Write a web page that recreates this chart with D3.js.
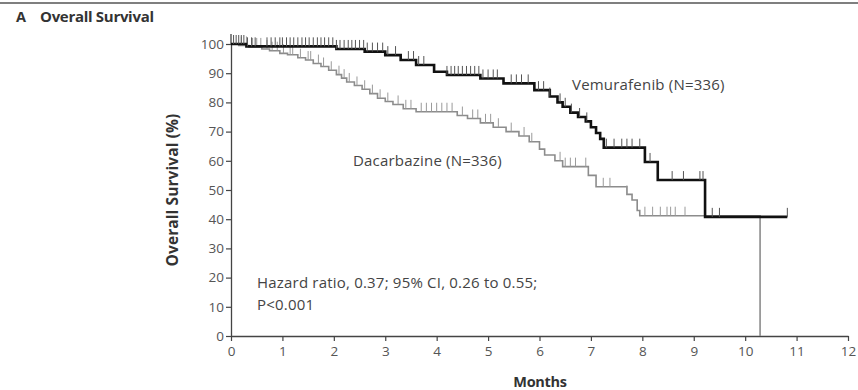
<!DOCTYPE html>
<html>
<head>
<meta charset="utf-8">
<script src="https://cdn.jsdelivr.net/npm/d3@7/dist/d3.min.js"></script>
<style>
  html, body { margin: 0; padding: 0; background: #fff; }
  svg { display: block; font-family: "Open Sans", Lato, sans-serif; }
</style>
</head>
<body>
<svg id="chart" width="858" height="390"></svg>
<script>
// Kaplan-Meier step points: time in months, survival in percent
const vemTime = [0, 0.3, 2.05, 2.6, 3.0, 3.3, 3.6, 3.95, 4.2, 4.85, 5.3, 5.9, 6.2, 6.35, 6.45, 6.6, 6.75, 6.9, 7.0, 7.1, 7.18, 7.25, 8.05, 8.3, 9.22, 10.82];
const vemSurv = [100, 99.2, 98.3, 97.4, 96.2, 94.5, 92.8, 90.5, 89.4, 88.2, 86.5, 84.2, 82.0, 80.0, 78.5, 76.5, 75.0, 73.5, 71.5, 69.5, 67.5, 64.5, 59.6, 53.4, 40.8, 40.8];

const dacTime = [0, 0.15, 0.35, 0.6, 0.75, 0.95, 1.1, 1.3, 1.45, 1.6, 1.75, 1.9, 2.05, 2.15, 2.25, 2.4, 2.55, 2.7, 2.85, 3.0, 3.15, 3.35, 3.6, 4.4, 4.6, 4.85, 5.1, 5.35, 5.6, 5.8, 6.0, 6.1, 6.3, 6.45, 6.95, 7.1, 7.7, 7.8, 7.9, 7.95, 10.29];
const dacSurv = [100, 99.5, 99.0, 98.3, 97.7, 96.8, 96.3, 95.3, 94.5, 93.3, 92.3, 91.0, 89.5, 88.3, 87.0, 85.8, 84.5, 83.0, 81.4, 80.3, 79.3, 77.8, 76.8, 75.5, 74.5, 73.0, 71.5, 70.0, 68.5, 66.5, 64.0, 62.0, 60.0, 58.0, 55.0, 51.1, 48.5, 46.6, 43.0, 41.2, 0];

// Censoring marks (months)
const vemCensor = [0.05, 0.1, 0.15, 0.2, 0.25, 0.32, 0.4, 0.47, 0.7, 0.78, 0.86, 0.95, 1.0, 1.08, 1.15, 1.22, 1.3, 1.38, 1.45, 1.52, 1.6, 1.68, 1.75, 1.82, 1.9, 1.98, 2.05, 2.12, 2.2, 2.28, 2.35, 2.42, 2.5, 2.58, 2.65, 2.75, 2.85, 2.95, 3.05, 3.2, 3.45, 3.55, 3.65, 3.75, 4.2, 4.28, 4.35, 4.42, 4.5, 4.58, 4.66, 4.74, 4.82, 4.9, 5.0, 5.1, 5.18, 5.45, 5.55, 5.65, 5.78, 5.98, 6.08, 6.2, 6.4, 6.5, 6.62, 6.78, 6.92, 7.3, 7.45, 7.6, 7.7, 7.8, 7.95, 8.15, 8.58, 8.8, 9.12, 9.18, 9.36, 9.5, 10.82];
const dacCensor = [0.2, 0.3, 0.42, 0.5, 0.58, 0.7, 0.8, 0.9, 1.02, 1.15, 1.2, 1.35, 1.5, 1.55, 1.7, 1.8, 1.95, 2.1, 2.2, 2.3, 2.45, 2.6, 2.75, 2.9, 3.05, 3.25, 3.4, 3.5, 3.7, 3.8, 3.9, 4.0, 4.1, 4.2, 4.3, 4.5, 4.7, 4.8, 4.95, 5.05, 5.2, 5.45, 5.7, 5.85, 6.4, 6.5, 6.6, 6.7, 6.9, 7.24, 7.37, 7.7, 8.05, 8.2, 8.35, 8.48, 8.55, 8.64, 8.83];

const xTicks = [0, 1, 2, 3, 4, 5, 6, 7, 8, 9, 10, 11, 12];
const yTicks = [0, 10, 20, 30, 40, 50, 60, 70, 80, 90, 100];

const svg = d3.select("#chart");

const x = d3.scaleLinear().domain([0, 12]).range([231, 848]);
const y = d3.scaleLinear().domain([0, 100]).range([336, 44]);

// top rule and panel title
svg.append("line").attr("x1", 0).attr("x2", 858).attr("y1", 3).attr("y2", 3)
  .attr("stroke", "#555").attr("stroke-width", 1.5);
svg.append("text").attr("x", 16).attr("y", 22)
  .attr("font-size", 14.5).attr("font-weight", "bold").attr("fill", "#333")
  .text("A");
svg.append("text").attr("x", 40).attr("y", 22)
  .attr("font-size", 15).attr("font-weight", "bold").attr("fill", "#333")
  .attr("letter-spacing", -0.3)
  .text("Overall Survival");

// axes
const axisColor = "#444";
const xAxis = svg.append("g").attr("transform", `translate(0,${y(0)})`)
  .call(d3.axisBottom(x).tickValues(xTicks).tickSize(5).tickSizeOuter(0).tickPadding(5));
const yAxis = svg.append("g").attr("transform", `translate(${x(0)},0)`)
  .call(d3.axisLeft(y).tickValues(yTicks).tickSize(5).tickSizeOuter(0).tickPadding(2));
[xAxis, yAxis].forEach(g => {
  g.select(".domain").attr("stroke", axisColor).attr("stroke-width", 1.3);
  g.selectAll(".tick line").attr("stroke", axisColor).attr("stroke-width", 1.2);
  g.selectAll(".tick text").attr("fill", "#555").attr("font-size", 13.5)
    .attr("font-family", "\"Open Sans\", sans-serif");
});
// y axis runs slightly past 100
svg.append("line").attr("x1", x(0)).attr("x2", x(0)).attr("y1", y(100)).attr("y2", 34)
  .attr("stroke", axisColor).attr("stroke-width", 1.3);

svg.append("text")
  .attr("transform", `translate(178,190) rotate(-90)`)
  .attr("text-anchor", "middle").attr("font-size", 15.5).attr("font-weight", "bold").attr("fill", "#333")
  .attr("letter-spacing", 0.1)
  .text("Overall Survival (%)");
svg.append("text").attr("x", 540).attr("y", 387)
  .attr("text-anchor", "middle").attr("font-size", 14.5).attr("font-weight", "bold").attr("fill", "#333")
  .attr("letter-spacing", -0.3)
  .text("Months");

// survival curves
const line = d3.line().x(d => x(d[0])).y(d => y(d[1])).curve(d3.curveStepAfter);
const vemPts = vemTime.map((t, i) => [t, vemSurv[i]]);
const dacPts = dacTime.map((t, i) => [t, dacSurv[i]]);

function survAt(times, surv, t) {
  const i = d3.bisectRight(times, t) - 1;
  return surv[Math.max(0, i)];
}

const dacColor = "#8c8c8c";
const vemColor = "#111";

svg.append("path").datum(dacPts).attr("d", line)
  .attr("fill", "none").attr("stroke", dacColor).attr("stroke-width", 1.6);
svg.append("g").selectAll("line").data(dacCensor).join("line")
  .attr("x1", d => x(d)).attr("x2", d => x(d))
  .attr("y1", d => y(survAt(dacTime, dacSurv, d)))
  .attr("y2", d => y(survAt(dacTime, dacSurv, d)) - 9)
  .attr("stroke", "#9a9a9a").attr("stroke-width", 1);

svg.append("path").datum(vemPts).attr("d", line)
  .attr("fill", "none").attr("stroke", vemColor).attr("stroke-width", 2.6);
svg.append("g").selectAll("line").data(vemCensor).join("line")
  .attr("x1", d => x(d)).attr("x2", d => x(d))
  .attr("y1", d => y(survAt(vemTime, vemSurv, d)))
  .attr("y2", d => y(survAt(vemTime, vemSurv, d)) - 9)
  .attr("stroke", "#555").attr("stroke-width", 1);

// curve labels and statistics
const labelStyle = s => s.attr("font-size", 15).attr("fill", "#444").attr("letter-spacing", 0.2);
svg.append("text").attr("x", 572).attr("y", 90).call(labelStyle).text("Vemurafenib (N=336)");
svg.append("text").attr("x", 353).attr("y", 166).call(labelStyle).text("Dacarbazine (N=336)");
svg.append("text").attr("x", 257).attr("y", 288).call(labelStyle).text("Hazard ratio, 0.37; 95% CI, 0.26 to 0.55;");
svg.append("text").attr("x", 257).attr("y", 310).call(labelStyle).text("P<0.001");
</script>
</body>
</html>
